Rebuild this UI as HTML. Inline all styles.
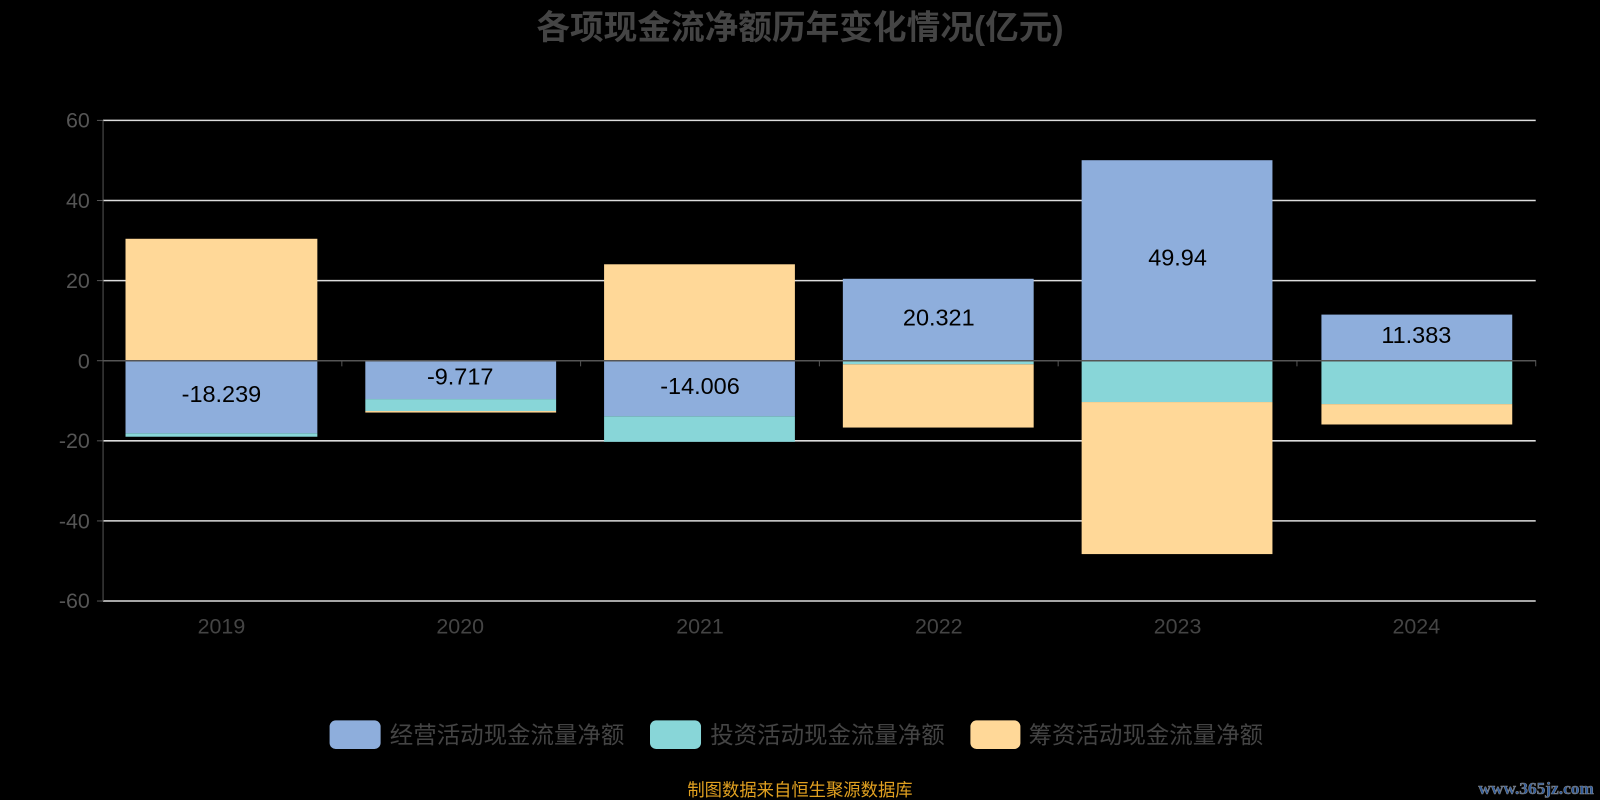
<!DOCTYPE html>
<html><head><meta charset="utf-8"><style>html,body{margin:0;padding:0;background:#000;}svg{display:block}</style></head>
<body>
<svg width="1600" height="800" viewBox="0 0 1568 784" preserveAspectRatio="none" xmlns="http://www.w3.org/2000/svg" font-family="Liberation Sans, Noto Sans CJK SC, sans-serif">
<rect width="1568" height="784" fill="#000"/>
<text x="784" y="38" text-anchor="middle" font-size="33" font-weight="bold" fill="#444">各项现金流净额历年变化情况(亿元)</text>
<g stroke="#ddd" stroke-width="1.5">
<line x1="101" y1="118" x2="1505" y2="118"/><line x1="101" y1="196.5" x2="1505" y2="196.5"/><line x1="101" y1="275" x2="1505" y2="275"/>
<line x1="101" y1="432" x2="1505" y2="432"/><line x1="101" y1="510.5" x2="1505" y2="510.5"/><line x1="101" y1="589" x2="1505" y2="589"/>
</g>
<line x1="101" y1="118" x2="101" y2="589" stroke="#555"/>
<g stroke="#555"><line x1="95" y1="118" x2="101" y2="118"/><line x1="95" y1="196.5" x2="101" y2="196.5"/><line x1="95" y1="275" x2="101" y2="275"/><line x1="95" y1="353.5" x2="101" y2="353.5"/><line x1="95" y1="432" x2="101" y2="432"/><line x1="95" y1="510.5" x2="101" y2="510.5"/><line x1="95" y1="589" x2="101" y2="589"/></g>
<g font-size="21" fill="#555" text-anchor="end">
<text x="88" y="125">60</text><text x="88" y="204">40</text><text x="88" y="282">20</text><text x="88" y="361">0</text><text x="88" y="439">-20</text><text x="88" y="518">-40</text><text x="88" y="596">-60</text>
</g>
<g stroke-width="1">
<rect x="123" y="234" width="188" height="119" fill="#ffd898"/>
<rect x="123" y="353" width="188" height="71.6" fill="#8eaedc"/>
<rect x="123" y="424.6" width="188" height="3.4" fill="#88d6d8"/>
<rect x="358" y="353" width="187" height="38.1" fill="#8eaedc"/>
<rect x="358" y="391.1" width="187" height="11.7" fill="#88d6d8"/>
<rect x="358" y="402.8" width="187" height="1.5" fill="#ffd898"/>
<rect x="592" y="259" width="187" height="94" fill="#ffd898"/>
<rect x="592" y="353" width="187" height="55" fill="#8eaedc"/>
<rect x="592" y="408" width="187" height="25" fill="#88d6d8"/>
<rect x="826" y="273.2" width="187" height="79.8" fill="#8eaedc"/>
<rect x="826" y="353" width="187" height="4" fill="#88d6d8"/>
<rect x="826" y="357" width="187" height="62" fill="#ffd898"/>
<rect x="1060" y="157" width="187" height="196" fill="#8eaedc"/>
<rect x="1060" y="353" width="187" height="41" fill="#88d6d8"/>
<rect x="1060" y="394" width="187" height="149" fill="#ffd898"/>
<rect x="1295" y="308.3" width="187" height="44.7" fill="#8eaedc"/>
<rect x="1295" y="353" width="187" height="43" fill="#88d6d8"/>
<rect x="1295" y="396" width="187" height="20" fill="#ffd898"/>
</g>
<line x1="101" y1="353.5" x2="1505" y2="353.5" stroke="#555" stroke-width="1.5"/>
<g stroke="#555"><line x1="335" y1="353" x2="335" y2="359"/><line x1="569" y1="353" x2="569" y2="359"/><line x1="803" y1="353" x2="803" y2="359"/><line x1="1037" y1="353" x2="1037" y2="359"/><line x1="1271" y1="353" x2="1271" y2="359"/><line x1="1505" y1="353" x2="1505" y2="359"/></g>
<g font-size="23" fill="#000" text-anchor="middle">
<text x="217" y="394">-18.239</text><text x="451" y="377">-9.717</text><text x="686" y="386">-14.006</text>
<text x="920" y="319">20.321</text><text x="1154" y="260">49.94</text><text x="1388" y="336">11.383</text>
</g>
<g font-size="21" fill="#444" text-anchor="middle">
<text x="217" y="621">2019</text><text x="451" y="621">2020</text><text x="686" y="621">2021</text><text x="920" y="621">2022</text><text x="1154" y="621">2023</text><text x="1388" y="621">2024</text>
</g>
<rect x="323" y="706" width="50" height="28" rx="6" fill="#8eaedc"/>
<text x="382" y="728" font-size="23" fill="#444">经营活动现金流量净额</text>
<rect x="637" y="706" width="50" height="28" rx="6" fill="#88d6d8"/>
<text x="696" y="728" font-size="23" fill="#444">投资活动现金流量净额</text>
<rect x="951" y="706" width="49" height="28" rx="6" fill="#ffd898"/>
<text x="1008" y="728" font-size="23" fill="#444">筹资活动现金流量净额</text>
<text x="784" y="780" text-anchor="middle" font-size="17" fill="#e0a020">制图数据来自恒生聚源数据库</text>
<text x="1562" y="778" text-anchor="end" font-size="17" font-weight="bold" fill="#2a5aa0" stroke="#888" stroke-width="0.6" font-family="Liberation Serif, serif">www.365jz.com</text>
</svg>
</body></html>
